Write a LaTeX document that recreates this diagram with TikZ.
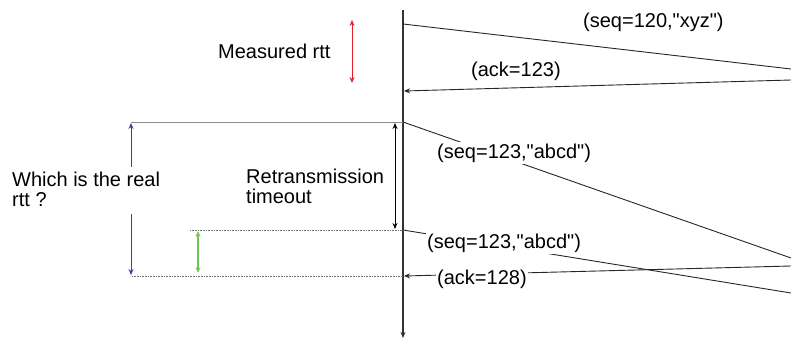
\documentclass[tikz,border=0pt]{standalone}
\usepackage{fontspec}
\newfontfamily\lbfont{Liberation Sans}
\usetikzlibrary{arrows.meta}
\definecolor{rttred}{RGB}{228,32,44}
\definecolor{rttblue}{RGB}{62,62,160}
\definecolor{rttgreen}{RGB}{112,198,84}
\begin{document}
\begin{tikzpicture}[x=1pt,y=-1pt,
  lbl/.style={inner sep=0pt,font=\lbfont\fontsize{20}{20}\selectfont},
  lblw/.style={lbl,fill=white,inner xsep=1pt,inner ysep=2pt},
  tip/.style={-{Stealth[length=6pt,width=5pt]}},
  dtip/.style={{Stealth[length=6pt,width=5pt]}-{Stealth[length=6pt,width=5pt]}},
  msg/.style={line width=0.9pt,black!85},
  dotl/.style={line width=1pt,black!55,dash pattern=on 1pt off 0.6pt}]
\useasboundingbox (0,0) rectangle (791,339);
% timeline
\coordinate (tTop) at (403,10);
\coordinate (tBot) at (403,338);
\draw[line width=1.2pt,black!80,tip] (tTop) -- (tBot);
% endpoints
\coordinate (s1a) at (403,24);   \coordinate (s1b) at (791,69);
\coordinate (a1a) at (791,80);   \coordinate (a1b) at (404,91);
\coordinate (s2a) at (403,122);  \coordinate (s2b) at (791,258);
\coordinate (s3a) at (403,230);  \coordinate (s3b) at (791,293);
\coordinate (a2a) at (791,266);  \coordinate (a2b) at (404,276);
% messages
\draw[msg] (s1a) -- (s1b);
\draw[msg,tip] (a1a) -- (a1b);
\draw[msg] (s2a) -- (s2b);
\draw[msg] (s3a) -- (s3b);
\draw[msg,tip] (a2a) -- (a2b);
% reference lines
\coordinate (h1) at (131,122);
\draw[line width=0.8pt,black!45] (h1) -- (s2a);
\coordinate (h2) at (190,230);
\draw[dotl] (h2) -- (s3a);
\coordinate (h3) at (132,276);
\draw[dotl] (h3) -- (a2b);
% red arrow
\coordinate (r1) at (352,20); \coordinate (r2) at (352,83);
\draw[rttred,line width=1pt,dtip] (r1) -- (r2);
% blue arrows
\coordinate (b1) at (131,167); \coordinate (b2) at (131,123);
\coordinate (b3) at (131,214); \coordinate (b4) at (131,275);
\draw[rttblue,line width=1pt,tip] (b1) -- (b2);
\draw[rttblue,line width=1pt,tip] (b3) -- (b4);
% green arrow
\coordinate (g1) at (198,231); \coordinate (g2) at (198,273);
\draw[rttgreen,line width=1.5pt,dtip] (g1) -- (g2);
% black timeout arrow
\coordinate (k1) at (395,123); \coordinate (k2) at (395,229);
\draw[black,line width=0.9pt,dtip] (k1) -- (k2);
% labels
\node[lbl,anchor=base west] (meas) at (218,59) {Measured rtt};
\node[lbl,anchor=base west] (l1) at (583,28) {(seq=120,"xyz")};
\node[lbl,anchor=base west] (l2) at (471,77) {(ack=123)};
\node[lbl,anchor=north west,align=left] (which) at (12,172) {Which is the real\\rtt ?};
\node[lbl,anchor=north west,align=left] (rto) at (246,169) {Retransmission\\timeout};
\node[lblw,anchor=base west] (l3) at (436,158) {(seq=123,"abcd")};
\node[lblw,anchor=base west] (l4) at (426,248) {(seq=123,"abcd")};
\node[lblw,anchor=base west] (l5) at (436,284) {(ack=128)};
\end{tikzpicture}
\end{document}
